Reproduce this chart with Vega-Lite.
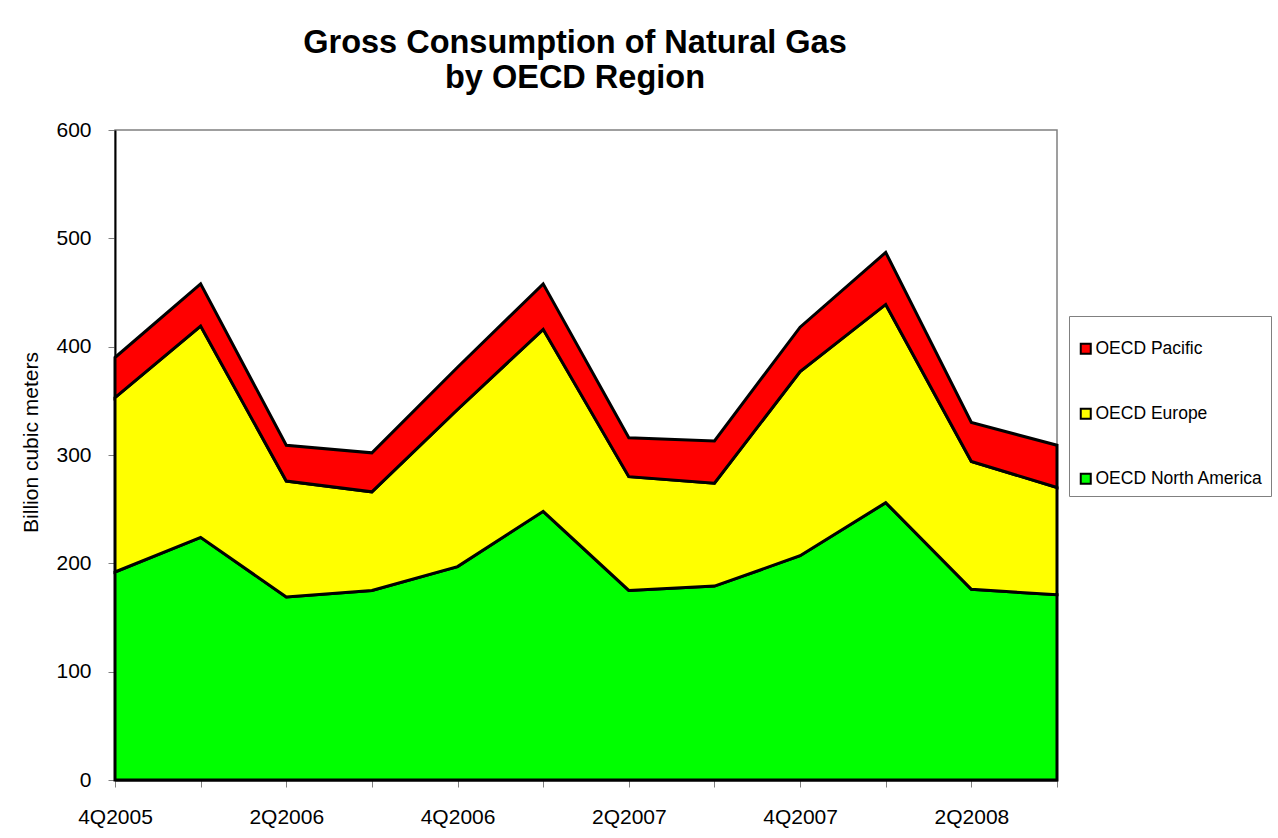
{
  "$schema": "https://vega.github.io/schema/vega-lite/v6.json",
  "autosize": "none",
  "width": 942,
  "height": 650,
  "padding": {"left": 115, "top": 130, "right": 221, "bottom": 58},
  "background": "white",
  "title": {
    "text": ["Gross Consumption of Natural Gas", "by OECD Region"],
    "font": "Liberation Sans",
    "fontSize": 32.5,
    "fontWeight": "bold",
    "lineHeight": 35,
    "color": "black",
    "anchor": "middle",
    "frame": "group",
    "dx": -11,
    "offset": 25
  },
  "datasets": {
    "regions": [
      {"region": "OECD North America", "stackRank": 1},
      {"region": "OECD Europe", "stackRank": 2},
      {"region": "OECD Pacific", "stackRank": 3}
    ]
  },
  "data": {
    "values": [
      {"quarter": "4Q2005", "region": "OECD North America", "value": 192},
      {"quarter": "1Q2006", "region": "OECD North America", "value": 224},
      {"quarter": "2Q2006", "region": "OECD North America", "value": 169},
      {"quarter": "3Q2006", "region": "OECD North America", "value": 175},
      {"quarter": "4Q2006", "region": "OECD North America", "value": 197},
      {"quarter": "1Q2007", "region": "OECD North America", "value": 248},
      {"quarter": "2Q2007", "region": "OECD North America", "value": 175},
      {"quarter": "3Q2007", "region": "OECD North America", "value": 179},
      {"quarter": "4Q2007", "region": "OECD North America", "value": 207},
      {"quarter": "1Q2008", "region": "OECD North America", "value": 256},
      {"quarter": "2Q2008", "region": "OECD North America", "value": 176},
      {"quarter": "3Q2008", "region": "OECD North America", "value": 171},
      {"quarter": "4Q2005", "region": "OECD Europe", "value": 161},
      {"quarter": "1Q2006", "region": "OECD Europe", "value": 195},
      {"quarter": "2Q2006", "region": "OECD Europe", "value": 107},
      {"quarter": "3Q2006", "region": "OECD Europe", "value": 91},
      {"quarter": "4Q2006", "region": "OECD Europe", "value": 145},
      {"quarter": "1Q2007", "region": "OECD Europe", "value": 168},
      {"quarter": "2Q2007", "region": "OECD Europe", "value": 105},
      {"quarter": "3Q2007", "region": "OECD Europe", "value": 95},
      {"quarter": "4Q2007", "region": "OECD Europe", "value": 170},
      {"quarter": "1Q2008", "region": "OECD Europe", "value": 183},
      {"quarter": "2Q2008", "region": "OECD Europe", "value": 118},
      {"quarter": "3Q2008", "region": "OECD Europe", "value": 99},
      {"quarter": "4Q2005", "region": "OECD Pacific", "value": 37},
      {"quarter": "1Q2006", "region": "OECD Pacific", "value": 39},
      {"quarter": "2Q2006", "region": "OECD Pacific", "value": 33},
      {"quarter": "3Q2006", "region": "OECD Pacific", "value": 36},
      {"quarter": "4Q2006", "region": "OECD Pacific", "value": 39},
      {"quarter": "1Q2007", "region": "OECD Pacific", "value": 42},
      {"quarter": "2Q2007", "region": "OECD Pacific", "value": 36},
      {"quarter": "3Q2007", "region": "OECD Pacific", "value": 39},
      {"quarter": "4Q2007", "region": "OECD Pacific", "value": 41},
      {"quarter": "1Q2008", "region": "OECD Pacific", "value": 48},
      {"quarter": "2Q2008", "region": "OECD Pacific", "value": 36},
      {"quarter": "3Q2008", "region": "OECD Pacific", "value": 39}
    ]
  },
  "transform": [
    {"lookup": "region", "from": {"data": {"name": "regions"}, "key": "region", "fields": ["stackRank"]}}
  ],
  "mark": {"type": "area", "stroke": "black", "strokeWidth": 3, "strokeJoin": "miter", "opacity": 1, "fillOpacity": 1},
  "encoding": {
    "x": {
      "field": "quarter",
      "type": "ordinal",
      "sort": null,
      "scale": {"type": "point", "padding": 0},
      "axis": {
        "title": null,
        "labelAngle": 0,
        "labelExpr": "indexof(['4Q2005','2Q2006','4Q2006','2Q2007','4Q2007','2Q2008'], datum.value) >= 0 ? datum.label : ''",
        "labelFont": "Liberation Sans",
        "labelFontSize": 21,
        "labelColor": "black",
        "labelPadding": 19,
        "tickSize": 7,
        "tickColor": "#808080",
        "domainColor": "black",
        "domainWidth": 2,
        "grid": false
      }
    },
    "y": {
      "field": "value",
      "type": "quantitative",
      "stack": "zero",
      "scale": {"domain": [0, 600], "nice": false},
      "axis": {
        "title": "Billion cubic meters",
        "titleFont": "Liberation Sans",
        "titleFontSize": 21,
        "titleFontWeight": "normal",
        "titleColor": "black",
        "titlePadding": 14,
        "titleY": 312,
        "values": [0, 100, 200, 300, 400, 500, 600],
        "labelFont": "Liberation Sans",
        "labelFontSize": 21,
        "labelColor": "black",
        "labelPadding": 17,
        "tickSize": 7,
        "tickColor": "#808080",
        "domainColor": "black",
        "domainWidth": 2,
        "grid": false
      }
    },
    "order": {"field": "stackRank", "type": "quantitative", "sort": "ascending"},
    "color": {
      "field": "region",
      "type": "nominal",
      "scale": {
        "domain": ["OECD Pacific", "OECD Europe", "OECD North America"],
        "range": ["#FF0000", "#FFFF00", "#00FF00"]
      },
      "legend": {
        "orient": "none",
        "legendX": 954,
        "legendY": 186,
        "title": " ",
        "titleFontSize": 12,
        "titlePadding": 4,
        "direction": "vertical",
        "symbolType": "square",
        "symbolSize": 100,
        "symbolStrokeColor": "black",
        "symbolStrokeWidth": 2,
        "symbolOpacity": 1,
        "labelFont": "Liberation Sans",
        "labelFontSize": 17.5,
        "labelColor": "black",
        "labelOffset": 1,
        "labelLimit": 300,
        "rowPadding": 46,
        "padding": 8,
        "strokeColor": "#808080",
        "fillColor": "white"
      }
    }
  },
  "config": {
    "view": {"stroke": "#808080", "strokeWidth": 1.5}
  }
}
